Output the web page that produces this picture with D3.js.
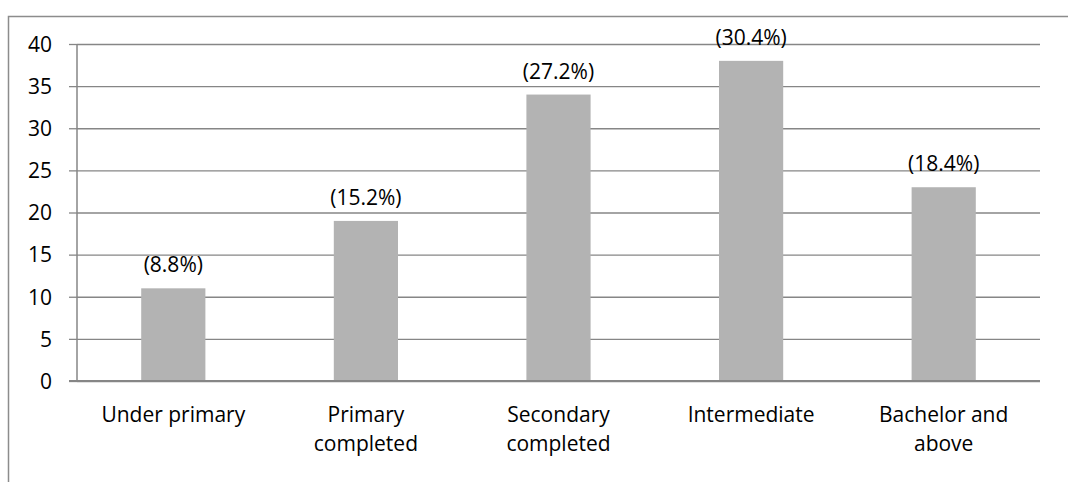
<!DOCTYPE html>
<html>
<head>
<meta charset="utf-8">
<script src="https://cdn.jsdelivr.net/npm/d3@7"></script>
<style>
  body { margin: 0; background: #fff; }
  text { font-family: "Open Sans", Lato, sans-serif; fill: #000; }
</style>
</head>
<body>
<svg id="chart" width="1068" height="482"></svg>
<script>
// data
var categories = [["Under primary"], ["Primary", "completed"], ["Secondary", "completed"], ["Intermediate"], ["Bachelor and", "above"]];
var counts = [11, 19, 34, 38, 23];
var percentLabels = ["(8.8%)", "(15.2%)", "(27.2%)", "(30.4%)", "(18.4%)"];
var yTicks = [0, 5, 10, 15, 20, 25, 30, 35, 40];

var svg = d3.select("#chart");
var plotLeft = 77, plotRight = 1040, plotTop = 44, plotBottom = 381;
var fontSize = 21;

// outer frame (cut off at right/bottom like the source)
svg.append("rect")
	.attr("x", 8.5)
	.attr("y", 16.5)
	.attr("width", 1100)
	.attr("height", 520)
	.style("fill", "none")
	.style("stroke", "#8c8c8c")
	.style("stroke-width", 1.5);

var x = d3.scaleBand()
	.domain(d3.range(counts.length))
	.range([plotLeft, plotRight])
	.paddingInner(2 / 3)
	.paddingOuter(1 / 3);

var y = d3.scaleLinear()
	.domain([0, 40])
	.range([plotBottom, plotTop]);

// gridlines + y axis
var yAxis = svg.append("g")
	.attr("transform", "translate(" + plotLeft + ",0)")
	.call(d3.axisLeft(y).tickValues(yTicks).tickSize(8).tickPadding(17));

yAxis.select(".domain").remove();
yAxis.selectAll(".tick line").clone()
	.attr("x1", 0)
	.attr("x2", plotRight - plotLeft);
yAxis.selectAll(".tick line")
	.attr("stroke", "#868686")
	.attr("stroke-width", 1.3);
yAxis.selectAll(".tick text")
	.style("font-size", fontSize + "px")
	.attr("dy", "0.35em");

// bars
svg.append("g").selectAll("rect")
	.data(counts)
	.join("rect")
	.attr("x", function (d, i) { return x(i); })
	.attr("y", function (d) { return y(d); })
	.attr("width", x.bandwidth())
	.attr("height", function (d) { return y(0) - y(d); })
	.style("fill", "#b3b3b3");

// axis lines
svg.append("line")
	.attr("x1", plotLeft).attr("x2", plotLeft)
	.attr("y1", plotTop).attr("y2", plotBottom)
	.style("stroke", "#868686")
	.style("stroke-width", 1.5);
svg.append("line")
	.attr("x1", plotLeft - 8).attr("x2", plotRight)
	.attr("y1", plotBottom).attr("y2", plotBottom)
	.style("stroke", "#868686")
	.style("stroke-width", 2);

// value labels
svg.append("g").selectAll("text")
	.data(counts)
	.join("text")
	.attr("x", function (d, i) { return x(i) + x.bandwidth() / 2; })
	.attr("y", function (d) { return y(d) - 16; })
	.style("text-anchor", "middle")
	.style("font-size", fontSize + "px")
	.text(function (d, i) { return percentLabels[i]; });

// category labels
var cat = svg.append("g").selectAll("text")
	.data(categories)
	.join("text")
	.attr("x", function (d, i) { return x(i) + x.bandwidth() / 2; })
	.attr("y", 422)
	.style("text-anchor", "middle")
	.style("font-size", fontSize + "px");

cat.selectAll("tspan")
	.data(function (d) { return d; })
	.join("tspan")
	.attr("x", function () { return d3.select(this.parentNode).attr("x"); })
	.attr("dy", function (d, i) { return i === 0 ? 0 : 29; })
	.text(function (d) { return d; });
</script>
</body>
</html>
